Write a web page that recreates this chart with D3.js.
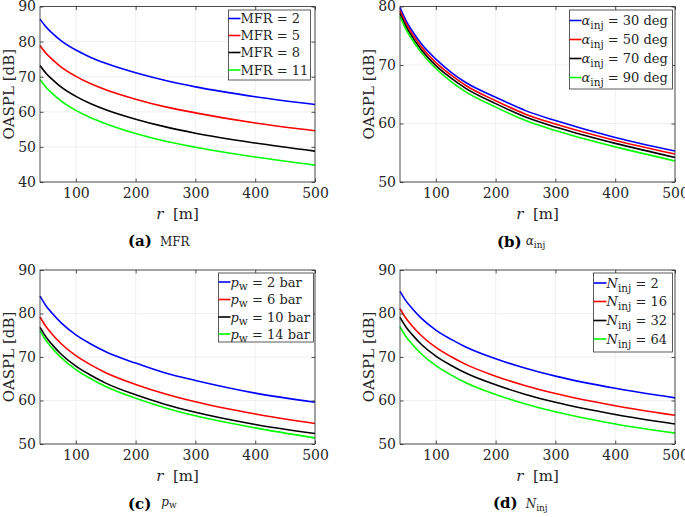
<!DOCTYPE html>
<html><head><meta charset="utf-8">
<script src="https://cdn.jsdelivr.net/npm/d3@7"></script>
<style>
body{margin:0;background:#fff}
svg text{font-family:"DejaVu Serif","Liberation Serif",serif;fill:#262626}
</style>
</head><body>
<svg id="chart" width="685" height="517"></svg>
<script>
// distance r [m]
const rValues = [40, 50, 60, 75, 100, 125, 150, 200, 250, 300, 400, 500];
const xTicks = [100, 200, 300, 400, 500];

// (a) MFR
const mfrLabels = ["2", "5", "8", "11"];
const mfr2  = [86.4, 84.2, 82.5, 80.3, 77.6, 75.5, 73.8, 71.1, 68.9, 67.1, 64.3, 62.1];
const mfr5  = [78.9, 76.7, 75.0, 72.8, 70.1, 68.0, 66.3, 63.6, 61.4, 59.7, 56.8, 54.6];
const mfr8  = [73.2, 71.0, 69.3, 67.1, 64.4, 62.3, 60.6, 57.9, 55.7, 53.9, 51.1, 48.8];
const mfr11 = [69.2, 67.0, 65.3, 63.1, 60.4, 58.3, 56.6, 53.8, 51.6, 49.9, 47.1, 44.8];

// (b) alpha_inj
const alphaLabels = ["30", "50", "70", "90"];
const alpha30 = [79.8, 77.6, 75.9, 73.7, 71.0, 68.8, 67.0, 64.5, 62.2, 60.5, 57.6, 55.3];
const alpha50 = [79.3, 77.1, 75.4, 73.2, 70.4, 68.3, 66.5, 63.9, 61.6, 59.9, 57.1, 54.8];
const alpha70 = [78.8, 76.6, 74.9, 72.7, 69.9, 67.8, 66.0, 63.4, 61.1, 59.4, 56.6, 54.2];
const alpha90 = [78.3, 76.1, 74.4, 72.2, 69.4, 67.2, 65.4, 62.8, 60.5, 58.8, 56.0, 53.6];

// (c) p_w
const pwLabels = ["2", "6", "10", "14"];
const pw2  = [84.0, 81.8, 80.1, 77.9, 75.1, 73.0, 71.2, 68.6, 66.3, 64.6, 61.7, 59.6];
const pw6  = [79.2, 77.0, 75.3, 73.1, 70.3, 68.2, 66.4, 63.7, 61.5, 59.7, 56.9, 54.7];
const pw10 = [76.8, 74.6, 72.9, 70.7, 67.9, 65.8, 64.0, 61.3, 59.1, 57.3, 54.5, 52.4];
const pw14 = [76.0, 73.8, 72.1, 69.9, 67.1, 65.0, 63.2, 60.5, 58.3, 56.5, 53.7, 51.4];

// (d) N_inj
const ninjLabels = ["2", "16", "32", "64"];
const ninj2  = [85.1, 82.9, 81.2, 79.0, 76.2, 74.1, 72.3, 69.6, 67.4, 65.6, 62.8, 60.6];
const ninj16 = [81.1, 78.9, 77.2, 75.0, 72.2, 70.1, 68.3, 65.6, 63.4, 61.6, 58.8, 56.6];
const ninj32 = [79.1, 76.9, 75.2, 73.0, 70.2, 68.1, 66.3, 63.6, 61.4, 59.6, 56.8, 54.6];
const ninj64 = [76.9, 74.7, 73.0, 70.8, 68.0, 65.9, 64.1, 61.4, 59.2, 57.4, 54.6, 52.5];

const yTicksA = [40, 50, 60, 70, 80, 90];
const yTicksB = [50, 60, 70, 80];
const yTicksCD = [50, 60, 70, 80, 90];

const colors = ["#0000ff", "#ff0000", "#000000", "#00ff00"];

const FONT = '"DejaVu Serif", "Liberation Serif", serif';
const svg = d3.select("#chart");

const panels = [
  {key:"a", x0:40, x1:315, y0:6.5, y1:182, yDom:[40,90], yTicks:yTicksA,
   series:[mfr2,mfr5,mfr8,mfr11], labels:mfrLabels, kind:"mfr",
   leg:{x:228.5, y:10, w:82, h:70, rows:[18.5,35.5,52.5,70], line:12},
   yLabX:13.5, cap:{x:128, y:246}},
  {key:"b", x0:400, x1:675, y0:6.5, y1:182, yDom:[50,80], yTicks:yTicksB,
   series:[alpha30,alpha50,alpha70,alpha90], labels:alphaLabels, kind:"alpha",
   leg:{x:569.5, y:10, w:103, h:79, rows:[20.5,39.5,58.5,77.5], line:12},
   yLabX:373.5, cap:{x:497, y:247}},
  {key:"c", x0:40, x1:315, y0:270, y1:444, yDom:[50,90], yTicks:yTicksCD,
   series:[pw2,pw6,pw10,pw14], labels:pwLabels, kind:"pw",
   leg:{x:218.5, y:273, w:95, h:69, rows:[282,299.5,317,334], line:12},
   yLabX:13.5, cap:{x:128, y:509}},
  {key:"d", x0:400, x1:675, y0:270, y1:444, yDom:[50,90], yTicks:yTicksCD,
   series:[ninj2,ninj16,ninj32,ninj64], labels:ninjLabels, kind:"ninj",
   leg:{x:593.5, y:273, w:79, h:79, rows:[283,301.5,320.5,339], line:13},
   yLabX:373.5, cap:{x:493, y:508}}
];

function legendText(t, kind, v) {
  t.style("white-space", "pre").attr("font-size", 13);
  if (kind === "mfr") {
    t.append("tspan").text("MFR = " + v);
  } else if (kind === "alpha") {
    t.append("tspan").attr("font-style", "italic").text("α");
    t.append("tspan").attr("font-size", 10.5).attr("dy", 4).text("inj");
    t.append("tspan").attr("dy", -4).text(" = " + v + " deg");
  } else if (kind === "pw") {
    t.append("tspan").attr("font-style", "italic").text("p");
    t.append("tspan").attr("font-size", 10.5).attr("dy", 3).text("w");
    t.append("tspan").attr("dy", -3).text(" = " + v + " bar");
  } else {
    t.append("tspan").attr("font-style", "italic").text("N");
    t.append("tspan").attr("font-size", 10.5).attr("dy", 4).text("inj");
    t.append("tspan").attr("dy", -4).text(" = " + v);
  }
}

function caption(g, p) {
  const t = g.append("text").attr("x", p.cap.x).attr("y", p.cap.y).style("white-space", "pre");
  t.append("tspan").attr("font-weight", "bold").attr("font-size", 15).attr("fill", "#000").text("(" + p.key + ")");
  if (p.kind === "mfr") {
    t.append("tspan").attr("font-size", 12).attr("dx", 8).text("MFR");
  } else if (p.kind === "alpha") {
    t.append("tspan").attr("font-size", 12).attr("font-style", "italic").attr("dx", 4).attr("dy", -2).text("α");
    t.append("tspan").attr("font-size", 9).attr("dy", 3).text("inj");
  } else if (p.kind === "pw") {
    t.append("tspan").attr("font-size", 12).attr("font-style", "italic").attr("dx", 10).attr("dy", -3).text("p");
    t.append("tspan").attr("font-size", 9).attr("dy", 2).text("w");
  } else {
    t.append("tspan").attr("font-size", 12).attr("font-style", "italic").attr("dx", 8).text("N");
    t.append("tspan").attr("font-size", 9).attr("dy", 3).text("inj");
  }
}

panels.forEach(p => {
  const g = svg.append("g");
  const x = d3.scaleLinear().domain([40, 500]).range([p.x0, p.x1]);
  const y = d3.scaleLinear().domain(p.yDom).range([p.y1, p.y0]);

  // grid
  g.append("g").selectAll("line").data(xTicks).join("line")
    .attr("x1", d => x(d)).attr("x2", d => x(d)).attr("y1", p.y0).attr("y2", p.y1)
    .attr("stroke", "#ebebeb").attr("stroke-width", 0.8);
  g.append("g").selectAll("line").data(p.yTicks).join("line")
    .attr("y1", d => y(d)).attr("y2", d => y(d)).attr("x1", p.x0).attr("x2", p.x1)
    .attr("stroke", "#ebebeb").attr("stroke-width", 0.8);

  // curves
  const line = d3.line().x((d, i) => x(rValues[i])).y(d => y(d)).curve(d3.curveMonotoneX);
  p.series.forEach((s, i) => {
    g.append("path").datum(s).attr("d", line).attr("fill", "none")
      .attr("stroke", colors[i]).attr("stroke-width", 1.6);
  });

  // axes
  const fs = 14;
  const bottom = g.append("g").attr("transform", `translate(0,${p.y1})`)
    .call(d3.axisBottom(x).tickValues(xTicks).tickSizeInner(-3.5).tickSizeOuter(0).tickPadding(6));
  const top = g.append("g").attr("transform", `translate(0,${p.y0})`)
    .call(d3.axisTop(x).tickValues(xTicks).tickSizeInner(-3.5).tickSizeOuter(0).tickFormat(""));
  const left = g.append("g").attr("transform", `translate(${p.x0},0)`)
    .call(d3.axisLeft(y).tickValues(p.yTicks).tickSizeInner(-3.5).tickSizeOuter(0).tickPadding(4));
  const right = g.append("g").attr("transform", `translate(${p.x1},0)`)
    .call(d3.axisRight(y).tickValues(p.yTicks).tickSizeInner(-3.5).tickSizeOuter(0).tickFormat(""));
  [bottom, top, left, right].forEach(a => {
    a.attr("font-family", FONT);
    a.select(".domain").remove();
    a.selectAll(".tick line").attr("stroke", "#262626").attr("stroke-width", 0.8);
    a.selectAll("text").attr("font-size", fs).attr("fill", "#262626");
  });
  g.append("rect").attr("x", p.x0).attr("y", p.y0).attr("width", p.x1 - p.x0).attr("height", p.y1 - p.y0)
    .attr("fill", "none").attr("stroke", "#262626").attr("stroke-width", 0.8);

  // axis labels
  const xl = g.append("text").attr("x", (p.x0 + p.x1) / 2).attr("y", p.y1 + 37)
    .attr("text-anchor", "middle").attr("font-size", 15).style("white-space", "pre");
  xl.append("tspan").attr("font-style", "italic").text("r");
  xl.append("tspan").text("  [m]");
  g.append("text").attr("transform", `translate(${p.yLabX},${(p.y0 + p.y1) / 2}) rotate(-90)`)
    .attr("text-anchor", "middle").attr("font-size", 15).text("OASPL [dB]");

  // legend
  const L = p.leg;
  g.append("rect").attr("x", L.x).attr("y", L.y).attr("width", L.w).attr("height", L.h)
    .attr("fill", "#fff").attr("stroke", "#333").attr("stroke-width", 0.8);
  p.labels.forEach((v, i) => {
    const cy = L.rows[i];
    g.append("line").attr("x1", L.x).attr("x2", L.x + L.line).attr("y1", cy).attr("y2", cy)
      .attr("stroke", colors[i]).attr("stroke-width", 1.6);
    const t = g.append("text").attr("x", L.x + L.line).attr("y", cy + 4.5);
    legendText(t, p.kind, v);
  });

  caption(g, p);
});
</script>
</body></html>
